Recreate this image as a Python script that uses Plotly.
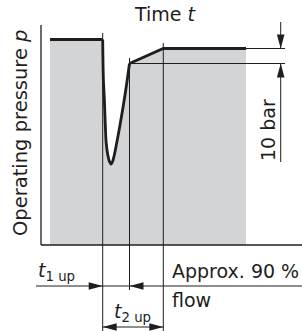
import plotly.graph_objects as go

# ---------------- data (time in arbitrary units, pressure in bar) ----------------
plateau_t = [0.9, 6.17]
plateau_p = [137, 137]

dip_t = [6.17, 6.24, 6.33, 6.43, 6.52, 6.68, 6.85, 7.0, 7.15, 7.33, 7.57, 7.9, 8.4, 8.85]
dip_p = [137, 110, 98, 80, 68, 60, 55.5, 54, 55.5, 60, 68, 80, 100, 121]

recovery_t = [8.85, 12.23, 20.5]
recovery_p = [121, 131, 131]

t_drop = 6.17      # start of t1 up / t2 up
t_rise = 8.85      # end of t1 up
t_90 = 12.23       # end of t2 up (approx. 90 % flow)
p_final = 131
p_rise = 121       # p_final - 10 bar

labels = {
    "title": "Time <i>t</i>",
    "ytitle": "Operating pressure <i>p</i>",
    "dim": "10 bar",
    "t1": "<i>t</i><sub>1 up</sub>",
    "t2": "<i>t</i><sub>2 up</sub>",
    "approx": "Approx. 90 %",
    "flow": "flow",
}

# ---------------- geometry of the canvas ----------------
W, H = 302, 331
OX, OY = 41, 245          # pixel of t=0, p=0
TPX, PPX = 10.0, 1.5      # px per time unit, px per bar
XR = [-OX / TPX, (W - OX) / TPX]
YR = [-(H - OY) / PPX, OY / PPX]


def t_of(px):
    return (px - OX) / TPX


def p_of(py):
    return (OY - py) / PPX


GRAY = "#d3d4d6"
INK = "#1e1e1e"
FONT = "DejaVu Sans"
FS = 19

fig = go.Figure()

# filled area under the pressure curve
fig.add_trace(go.Scatter(x=plateau_t, y=plateau_p, mode="lines", fill="tozeroy",
                         fillcolor=GRAY, line=dict(width=0), hoverinfo="skip"))
fig.add_trace(go.Scatter(x=recovery_t, y=recovery_p, mode="lines", fill="tozeroy",
                         fillcolor=GRAY, line=dict(width=0), hoverinfo="skip"))
fig.add_trace(go.Scatter(x=dip_t, y=dip_p, mode="lines", fill="tozeroy",
                         fillcolor=GRAY, line=dict(width=0, shape="spline"),
                         hoverinfo="skip"))

shapes = []


def seg(x0, y0, x1, y1, w=1.0):
    shapes.append(dict(type="line", xref="x", yref="y", x0=x0, y0=y0, x1=x1, y1=y1,
                       line=dict(color=INK, width=w), layer="above"))


def head(tx, ty, direction, L=14, Wd=3.8):
    # filled arrowhead; tip at data point (tx, ty); size in pixels
    if direction == "right":
        pts = [(tx, ty), (tx - L / TPX, ty + Wd / PPX), (tx - L / TPX, ty - Wd / PPX)]
    elif direction == "left":
        pts = [(tx, ty), (tx + L / TPX, ty + Wd / PPX), (tx + L / TPX, ty - Wd / PPX)]
    elif direction == "down":
        pts = [(tx, ty), (tx - Wd / TPX, ty + L / PPX), (tx + Wd / TPX, ty + L / PPX)]
    else:  # up
        pts = [(tx, ty), (tx - Wd / TPX, ty - L / PPX), (tx + Wd / TPX, ty - L / PPX)]
    path = "M " + " L ".join(f"{a},{b}" for a, b in pts) + " Z"
    shapes.append(dict(type="path", xref="x", yref="y", path=path,
                       fillcolor=INK, line=dict(width=0), layer="above"))


# thin reference lines
seg(t_drop, p_of(33), t_drop, YR[0])
seg(t_rise, p_of(58), t_rise, p_of(290))
seg(t_90, p_of(43), t_90, YR[0])
seg(t_90, p_final, t_of(285), p_final)
seg(t_rise, p_rise, t_of(285), p_rise)

# 10 bar dimension
t_dim = t_of(280.7)
seg(t_dim, p_of(22), t_dim, p_final)
head(t_dim, p_final, "down")
seg(t_dim, p_of(162), t_dim, p_rise)
head(t_dim, p_rise, "up")

# bottom dimension lines
p_b1 = p_of(286)
seg(t_of(36), p_b1, XR[1], p_b1)
head(t_drop, p_b1, "right")
head(t_rise, p_b1, "left")
p_b2 = p_of(327)
seg(t_drop, p_b2, t_90, p_b2)
head(t_drop, p_b2, "left")
head(t_90, p_b2, "right")

# axes
seg(0, 0, 0, p_of(25), 1.3)
seg(0, 0, XR[1], 0, 1.3)

fig.update_layout(shapes=shapes)

# thick pressure curve on top
fig.add_trace(go.Scatter(x=plateau_t, y=plateau_p, mode="lines",
                         line=dict(color=INK, width=2.8), hoverinfo="skip"))
fig.add_trace(go.Scatter(x=dip_t, y=dip_p, mode="lines",
                         line=dict(color=INK, width=2.8, shape="spline"), hoverinfo="skip"))
fig.add_trace(go.Scatter(x=recovery_t, y=recovery_p, mode="lines",
                         line=dict(color=INK, width=2.8), hoverinfo="skip"))


def ann(text, x, y, xanchor="left", yanchor="middle", angle=0, size=FS):
    fig.add_annotation(text=text, x=x / W, y=1 - y / H, xref="paper", yref="paper",
                       xanchor=xanchor, yanchor=yanchor, textangle=angle,
                       showarrow=False, font=dict(family=FONT, size=size, color=INK))


ann(labels["title"], 165, 14, xanchor="center")
ann(labels["ytitle"], 20, 133, xanchor="center", angle=-90, size=19.5)
ann(labels["dim"], 268, 130, xanchor="center", angle=-90)
ann(labels["t1"], 36, 271)
ann(labels["approx"], 170, 271)
ann(labels["flow"], 170, 300)
ann(labels["t2"], 112, 312)

fig.update_layout(
    width=W, height=H,
    margin=dict(l=0, r=0, t=0, b=0),
    paper_bgcolor="white", plot_bgcolor="white",
    showlegend=False,
    xaxis=dict(range=XR, visible=False, fixedrange=True),
    yaxis=dict(range=YR, visible=False, fixedrange=True),
)

fig.write_html("out.html", config={"displayModeBar": False},
               post_script="document.body.style.margin='0';document.body.style.padding='0';")
